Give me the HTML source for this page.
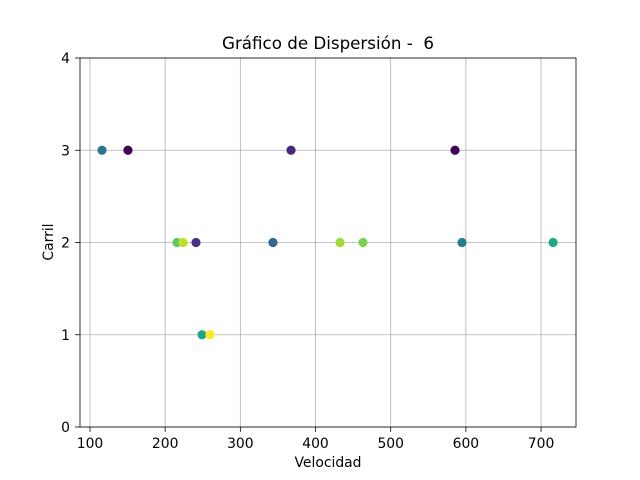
<!DOCTYPE html>
<html><head><meta charset="utf-8"><style>
body{margin:0;background:#fff;}
svg{display:block;font-family:"DejaVu Sans","Liberation Sans",sans-serif;}
</style></head><body>
<svg id="chart" width="640" height="480" viewBox="0 0 640 480">
<rect width="640" height="480" fill="#fff"/>
<g id="grid"></g>
<g id="pts"></g>
<rect x="80" y="58" width="496" height="369" fill="none" stroke="#000" stroke-width="0.8"/>
<g id="ticks"></g>
<text x="328" y="49" text-anchor="middle" font-size="16.7" style="white-space:pre">Gráfico de Dispersión -  6</text>
<text x="328" y="467" text-anchor="middle" font-size="13.9">Velocidad</text>
<text x="53" y="242" text-anchor="middle" font-size="13.9" transform="rotate(-90 53 242)">Carril</text>
</svg>
<script>
const xValues=[116,150.5,215.7,223.7,241,249,259.6,343.4,367.4,432.6,463.2,585.6,594.9,716];
const yValues=[3,3,2,2,2,1,1,2,3,2,2,3,2,2];
const colors=["#2a788e","#440154","#5ec962","#bddf26","#46327e","#21a585","#fde725","#31688e","#482878","#a0da39","#7ad151","#440154","#287c8e","#22a884"];
const xTicks=[100,200,300,400,500,600,700];
const yTicks=[0,1,2,3,4];
const X0=80,X1=576,Y0=427,Y1=58,xmin=86.7,xmax=746.5,ymin=0,ymax=4;
const sx=v=>X0+(v-xmin)/(xmax-xmin)*(X1-X0);
const sy=v=>Y0-(v-ymin)/(ymax-ymin)*(Y0-Y1);
const NS="http://www.w3.org/2000/svg";
const g=document.getElementById('grid'),t=document.getElementById('ticks'),p=document.getElementById('pts');
function mk(tag,a,parent){const e=document.createElementNS(NS,tag);for(const k in a)e.setAttribute(k,a[k]);parent.appendChild(e);return e;}
xTicks.forEach(v=>{const x=sx(v);
const l=mk('line',{x1:x,x2:x,y1:Y1,y2:Y0,stroke:'#b0b0b0','stroke-width':0.8},g);


const tk=mk('line',{x1:x,x2:x,y1:Y0,y2:Y0+4.9,stroke:'#000','stroke-width':0.8},t);


const tx=mk('text',{x:x,y:Y0+21,'text-anchor':'middle','font-size':13.9},t);tx.textContent=v;

});
yTicks.forEach(v=>{const y=sy(v);
const l=mk('line',{x1:X0,x2:X1,y1:y,y2:y,stroke:'#b0b0b0','stroke-width':0.8},g);


const tk=mk('line',{x1:X0-4.9,x2:X0,y1:y,y2:y,stroke:'#000','stroke-width':0.8},t);


const tx=mk('text',{x:X0-10,y:y+5,'text-anchor':'end','font-size':13.9},t);tx.textContent=v;

});
xValues.forEach((v,i)=>{const c=mk('circle',{cx:sx(v),cy:sy(yValues[i]),r:4.6,fill:colors[i]},p);

});
</script>
</body></html>
